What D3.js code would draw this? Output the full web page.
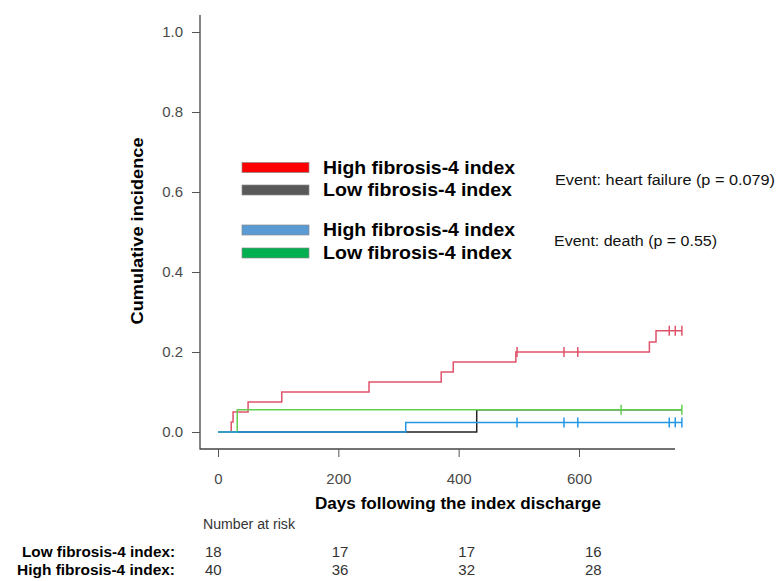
<!DOCTYPE html>
<meta charset="utf-8">
<head>
    <script src="https://d3js.org/d3.v7.min.js"></script>
    <style>
        body { margin: 0; background: #fff; }
        .tick text { font: 15px "Liberation Sans", Arial, sans-serif; fill: #4a4a4a; }
        .tick line { stroke: #555; }
    </style>
</head>
<body>
<div id="graph"></div>
<script>
    // data (days, cumulative incidence)
    var hfHighDays = [0, 22, 25, 50, 106, 251, 371, 391, 495, 717, 728, 771];
    var hfHighInc  = [0, 0.025, 0.05, 0.075, 0.1, 0.125, 0.15, 0.175, 0.2, 0.225, 0.253, 0.253];
    var hfHighCens = [497, 575, 598, 750, 760, 771];

    var hfLowDays = [0, 430, 771];
    var hfLowInc  = [0, 0.0556, 0.0556];

    var deathHighDays = [0, 312, 771];
    var deathHighInc  = [0, 0.024, 0.024];
    var deathHighCens = [497, 575, 598, 750, 760, 771];

    var deathLowDays = [0, 32, 771];
    var deathLowInc  = [0, 0.0556, 0.0556];
    var deathLowCens = [670, 771];

    var xTicks = [0, 200, 400, 600];
    var yTicks = [0, 0.2, 0.4, 0.6, 0.8, 1.0];

    var riskTimes = [0, 200, 400, 600];
    var riskLow  = [18, 17, 17, 16];
    var riskHigh = [40, 36, 32, 28];

    var legendLabels = ["High fibrosis-4 index", "Low fibrosis-4 index", "High fibrosis-4 index", "Low fibrosis-4 index"];
    var legendColors = ["#FF0000", "#595959", "#5B9BD5", "#00B050"];

    var W = 777, H = 581;
    var font = '"Liberation Sans", Arial, sans-serif';

    var svg = d3.select("#graph").append("svg")
        .attr("width", W).attr("height", H);
    svg.append("rect").attr("width", W).attr("height", H).attr("fill", "#fff");

    // scales
    var x = d3.scaleLinear().domain([0, 600]).range([218, 579]);
    var y = d3.scaleLinear().domain([0, 1]).range([432, 32]);

    // L shaped box
    svg.append("path")
        .attr("d", "M200,15V449H675")
        .attr("fill", "none").attr("stroke", "#444").attr("stroke-width", 1.3);

    // axes
    var yAxis = svg.append("g")
        .attr("transform", "translate(200,0)")
        .call(d3.axisLeft(y).tickValues(yTicks).tickFormat(d3.format(".1f")).tickSize(8).tickPadding(9));
    yAxis.select(".domain").remove();

    var xAxis = svg.append("g")
        .attr("transform", "translate(0,449)")
        .call(d3.axisBottom(x).tickValues(xTicks).tickSize(8).tickPadding(16));
    xAxis.select(".domain").remove();

    // axis titles
    svg.append("text")
        .attr("x", 458).attr("y", 509)
        .attr("text-anchor", "middle")
        .style("font", "bold 17px " + font)
        .attr("textLength", 286).attr("lengthAdjust", "spacingAndGlyphs")
        .text("Days following the index discharge");

    svg.append("text")
        .attr("transform", "translate(143,231) rotate(-90)")
        .attr("text-anchor", "middle")
        .style("font", "bold 17px " + font)
        .attr("textLength", 187).attr("lengthAdjust", "spacingAndGlyphs")
        .text("Cumulative incidence");

    // curves
    var line = d3.line()
        .x(function(d) { return x(d[0]); })
        .y(function(d) { return y(d[1]); })
        .curve(d3.curveStepAfter);

    // level of a step curve at time t
    function levelAt(days, inc, t) {
        var v = 0;
        days.forEach(function(d, i) { if (d <= t) v = inc[i]; });
        return v;
    }

    function curve(days, inc, cens, color) {
        var pts = days.map(function(d, i) { return [d, inc[i]]; });
        svg.append("path")
            .datum(pts)
            .attr("d", line)
            .attr("fill", "none")
            .attr("stroke", color)
            .attr("stroke-width", 1.5);
        if (!cens) return;
        svg.append("g").selectAll("line")
            .data(cens)
            .enter().append("line")
            .attr("x1", function(d) { return x(d); })
            .attr("x2", function(d) { return x(d); })
            .attr("y1", function(d) { return y(levelAt(days, inc, d)) - 5; })
            .attr("y2", function(d) { return y(levelAt(days, inc, d)) + 5; })
            .attr("stroke", color)
            .attr("stroke-width", 1.5);
    }

    curve(hfLowDays, hfLowInc, null, "#222222");
    curve(hfHighDays, hfHighInc, hfHighCens, "#DF536B");
    curve(deathLowDays, deathLowInc, deathLowCens, "#61D04F");
    curve(deathHighDays, deathHighInc, deathHighCens, "#2297E6");

    // legend
    var legY = [167.5, 190, 230, 253];
    var leg = svg.append("g");
    leg.selectAll("rect")
        .data(legendColors)
        .enter().append("rect")
        .attr("x", 242).attr("y", function(d, i) { return legY[i] - 5; })
        .attr("width", 67).attr("height", 10)
        .attr("fill", function(d) { return d; })
        .attr("stroke", "#8a8a8a").attr("stroke-width", 0.7);
    leg.selectAll("text")
        .data(legendLabels)
        .enter().append("text")
        .attr("x", 323).attr("y", function(d, i) { return legY[i] + 6; })
        .attr("textLength", function(d, i) { return i % 2 == 0 ? 192 : 189; })
        .attr("lengthAdjust", "spacingAndGlyphs")
        .style("font", "bold 18px " + font)
        .text(function(d) { return d; });

    svg.append("text")
        .attr("x", 555).attr("y", 185)
        .style("font", "14px " + font).attr("fill", "#111")
        .attr("textLength", 220).attr("lengthAdjust", "spacingAndGlyphs")
        .text("Event: heart failure (p = 0.079)");
    svg.append("text")
        .attr("x", 554).attr("y", 246)
        .style("font", "14px " + font).attr("fill", "#111")
        .attr("textLength", 163).attr("lengthAdjust", "spacingAndGlyphs")
        .text("Event: death (p = 0.55)");

    // number at risk table
    var xr = d3.scaleLinear().domain([0, 600]).range([205, 585]);
    svg.append("text")
        .attr("x", 203).attr("y", 529)
        .style("font", "14px " + font).attr("fill", "#333")
        .attr("textLength", 92).attr("lengthAdjust", "spacingAndGlyphs")
        .text("Number at risk");

    svg.append("text")
        .attr("x", 175).attr("y", 557).attr("text-anchor", "end")
        .style("font", "bold 14px " + font)
        .attr("textLength", 153).attr("lengthAdjust", "spacingAndGlyphs")
        .text("Low fibrosis-4 index:");
    svg.append("text")
        .attr("x", 175).attr("y", 575).attr("text-anchor", "end")
        .style("font", "bold 14px " + font)
        .attr("textLength", 158).attr("lengthAdjust", "spacingAndGlyphs")
        .text("High fibrosis-4 index:");

    svg.append("g").selectAll("text")
        .data(riskLow)
        .enter().append("text")
        .attr("x", function(d, i) { return xr(riskTimes[i]); })
        .attr("y", 557)
        .style("font", "15px " + font).attr("fill", "#333")
        .text(function(d) { return d; });
    svg.append("g").selectAll("text")
        .data(riskHigh)
        .enter().append("text")
        .attr("x", function(d, i) { return xr(riskTimes[i]); })
        .attr("y", 575)
        .style("font", "15px " + font).attr("fill", "#333")
        .text(function(d) { return d; });
</script>
</body>
